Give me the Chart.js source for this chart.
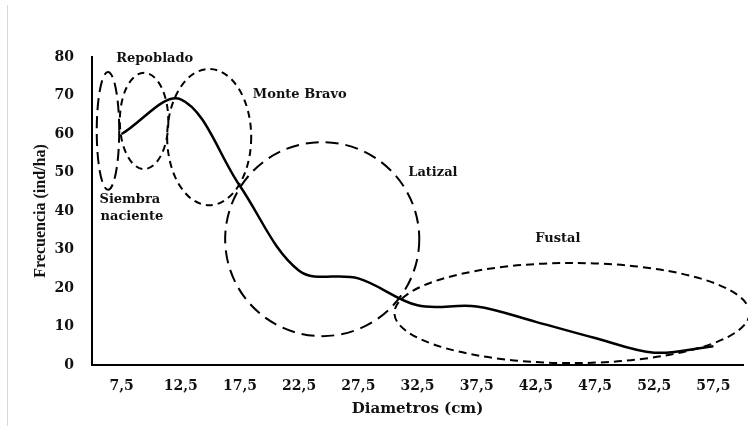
<!DOCTYPE html>
<html>
<head>
<meta charset="utf-8">
<script src="https://cdn.jsdelivr.net/npm/chart.js@4"></script>
<style>
  html, body { margin: 0; padding: 0; background: #fff; }
  #wrap { position: relative; width: 748px; height: 426px; }
  #edge { position: absolute; left: 7px; top: 5px; bottom: 0; width: 1px; background: #d8d8d8; }
</style>
</head>
<body>
<div id="wrap">
  <div id="edge"></div>
  <canvas id="diamChart" width="748" height="426"></canvas>
</div>
<script>
    // Clases diamétricas y frecuencia
    const diametros = ['7,5', '12,5', '17,5', '22,5', '27,5', '32,5', '37,5', '42,5', '47,5', '52,5', '57,5'];
    const frecuencia = [60, 69, 46.5, 24.5, 22.5, 15.5, 15.2, 11.2, 7, 3.2, 4.9];

    // Etapas de desarrollo (centro y radios en unidades de los ejes: índice de clase / ind/ha)
    const etapas = ['Siembra naciente', 'Repoblado', 'Monte Bravo', 'Latizal', 'Fustal'];
    const etapaCentroX = [-0.23, 0.38, 1.48, 3.39, 7.61];
    const etapaCentroY = [60.8, 63.4, 59.2, 32.7, 13.5];
    const etapaRadioX = [0.19, 0.41, 0.71, 1.64, 3.0];
    const etapaRadioY = [15.3, 12.5, 17.7, 25.2, 13.0];
    const etapaTrazo = [[12, 6], [7, 5], [7, 5], [13, 7], [8, 5]];

    // Rótulos de las etapas
    const rotulos = [['Siembra', 'naciente'], ['Repoblado'], ['Monte Bravo'], ['Latizal'], ['Fustal']];
    const rotuloX = [0.14, 0.56, 3.01, 5.26, 7.37];
    const rotuloY = [43.0, 79.7, 70.1, 49.9, 32.7];

    const etapasPlugin = {
        id: 'etapas',
        afterDatasetsDraw(chart) {
            const ctx = chart.ctx;
            const x = chart.scales.x;
            const y = chart.scales.y;
            const pxX = x.getPixelForValue(1) - x.getPixelForValue(0);
            const pxY = y.getPixelForValue(0) - y.getPixelForValue(1);
            ctx.save();
            ctx.strokeStyle = '#000';
            ctx.lineWidth = 2;
            etapas.forEach((e, i) => {
                ctx.setLineDash(etapaTrazo[i]);
                ctx.beginPath();
                ctx.ellipse(x.getPixelForValue(etapaCentroX[i]), y.getPixelForValue(etapaCentroY[i]),
                    etapaRadioX[i] * pxX, etapaRadioY[i] * pxY, 0, 0, Math.PI * 2);
                ctx.stroke();
            });
            ctx.setLineDash([]);
            ctx.fillStyle = '#111';
            ctx.font = 'bold 13px "DejaVu Serif"';
            ctx.textAlign = 'center';
            ctx.textBaseline = 'middle';
            rotulos.forEach((lineas, i) => {
                lineas.forEach((t, j) => {
                    ctx.fillText(t, x.getPixelForValue(rotuloX[i]) + (j ? 2 : 0),
                        y.getPixelForValue(rotuloY[i]) + j * 17);
                });
            });
            ctx.restore();
        }
    };

    const ctx = document.getElementById('diamChart').getContext('2d');
    const diamChart = new Chart(ctx, {
        type: 'line',
        data: {
            labels: diametros,
            datasets: [{
                label: 'Frecuencia',
                data: frecuencia,
                fill: false,
                borderColor: '#000',
                borderWidth: 2.5,
                pointRadius: 0,
                tension: 0.35
            }]
        },
        options: {
            responsive: false,
            animation: false,
            layout: { padding: { top: 57, right: 5, left: 0, bottom: 0 } },
            plugins: {
                legend: { display: false },
                tooltip: { enabled: false }
            },
            scales: {
                x: {
                    offset: true,
                    grid: { display: false },
                    border: { display: true, color: '#000', width: 2 },
                    ticks: {
                        color: '#111',
                        padding: 5,
                        maxRotation: 0,
                        font: { family: 'DejaVu Serif', weight: 'bold', size: 14 }
                    },
                    title: {
                        display: true,
                        text: 'Diametros (cm)',
                        color: '#111',
                        padding: { top: 4, bottom: 8 },
                        font: { family: 'DejaVu Serif', weight: 'bold', size: 15 }
                    },
                    afterFit: (scale) => { scale.height = 61; }
                },
                y: {
                    min: 0,
                    max: 80,
                    grid: { display: false },
                    border: { display: true, color: '#000', width: 2 },
                    ticks: {
                        stepSize: 10,
                        color: '#111',
                        padding: 10,
                        font: { family: 'DejaVu Serif', weight: 'bold', size: 14 }
                    },
                    title: {
                        display: true,
                        text: 'Frecuencia (ind/ha)',
                        color: '#111',
                        padding: { top: 31, bottom: 0 },
                        font: { family: 'Liberation Serif', weight: 'bold', size: 16 }
                    },
                    afterFit: (scale) => { scale.width = 92; }
                }
            }
        },
        plugins: [etapasPlugin]
    });
</script>
</body>
</html>
